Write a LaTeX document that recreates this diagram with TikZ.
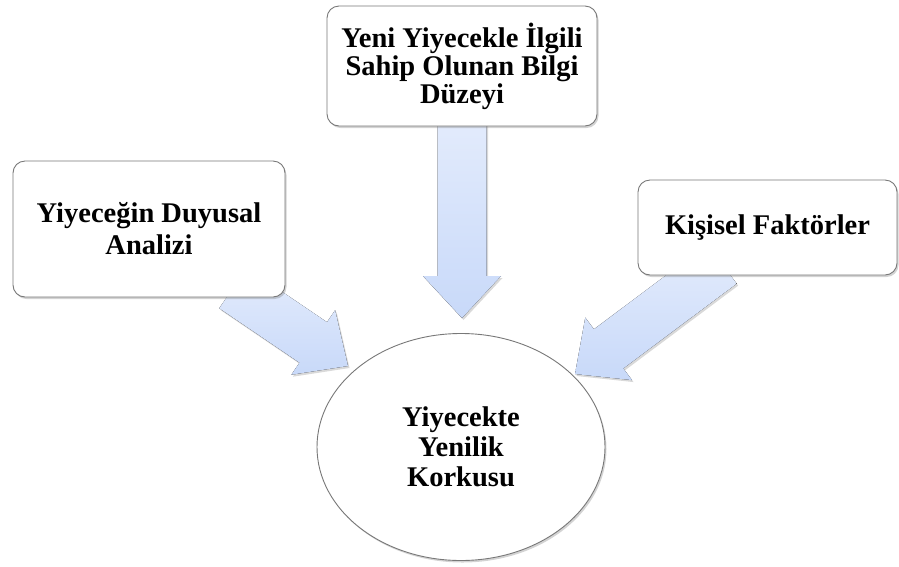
\documentclass[tikz,border=0pt]{standalone}
\usepackage{fontspec}
\setmainfont{Liberation Serif}
\usetikzlibrary{calc,shadows,shapes.geometric}
\definecolor{boxline}{RGB}{120,120,120}
\definecolor{arrtop}{RGB}{228,236,252}
\definecolor{arrbot}{RGB}{200,217,249}
\tikzset{
  box/.style={draw=boxline, line width=0.9pt, fill=white, rounded corners=12pt,
    align=center, font=\fontsize{28.5}{28}\selectfont\bfseries,
    drop shadow={opacity=0.35, shadow xshift=1.5pt, shadow yshift=-2pt}},
  oval/.style={ellipse, draw=boxline, line width=0.9pt, fill=white, inner sep=0pt,
    align=center, font=\fontsize{28.5}{30}\selectfont\bfseries,
    drop shadow={opacity=0.35, shadow xshift=1.5pt, shadow yshift=-2pt}},
  arrowfill/.style={top color=arrtop, bottom color=arrbot, draw=none,
    drop shadow={opacity=0.3, shadow xshift=1.5pt, shadow yshift=-2pt}}
}
\newcommand\blockarrow[2]{%
  \coordinate (hb) at ($(#2)!42pt!(#1)$);
  \fill[arrowfill] ($(#1)!24.5pt!90:(#2)$) -- ($(hb)!24.5pt!90:(#2)$)
    -- ($(hb)!39pt!90:(#2)$) -- (#2) -- ($(hb)!39pt!-90:(#2)$)
    -- ($(hb)!24.5pt!-90:(#2)$) -- ($(#1)!24.5pt!-90:(#2)$) -- cycle;
}
\begin{document}
\begin{tikzpicture}[x=1pt,y=-1pt]
\useasboundingbox (0,0) rectangle (899,566);
% arrow anchors
\coordinate (s1) at (462,110);
\coordinate (t1) at (462,318);
\coordinate (s2) at (233,288);
\coordinate (t2) at (348,366);
\coordinate (s3) at (722,264);
\coordinate (t3) at (575,374);
\blockarrow{s1}{t1}
\blockarrow{s2}{t2}
\blockarrow{s3}{t3}
% nodes
\node[box, minimum width=270pt, minimum height=120pt] (top) at (462,66)
  {Yeni Yiyecekle İlgili\\Sahip Olunan Bilgi\\Düzeyi};
\node[box, minimum width=272pt, minimum height=136pt,
  font=\fontsize{28.5}{32}\selectfont\bfseries] (left) at (149,229)
  {Yiyeceğin Duyusal\\Analizi};
\node[box, minimum width=259pt, minimum height=95pt] (right) at (767.5,227.5)
  {Kişisel Faktörler};
\node[oval, minimum width=288pt, minimum height=227pt] (center) at (461,447)
  {Yiyecekte\\Yenilik\\Korkusu};
\end{tikzpicture}
\end{document}
